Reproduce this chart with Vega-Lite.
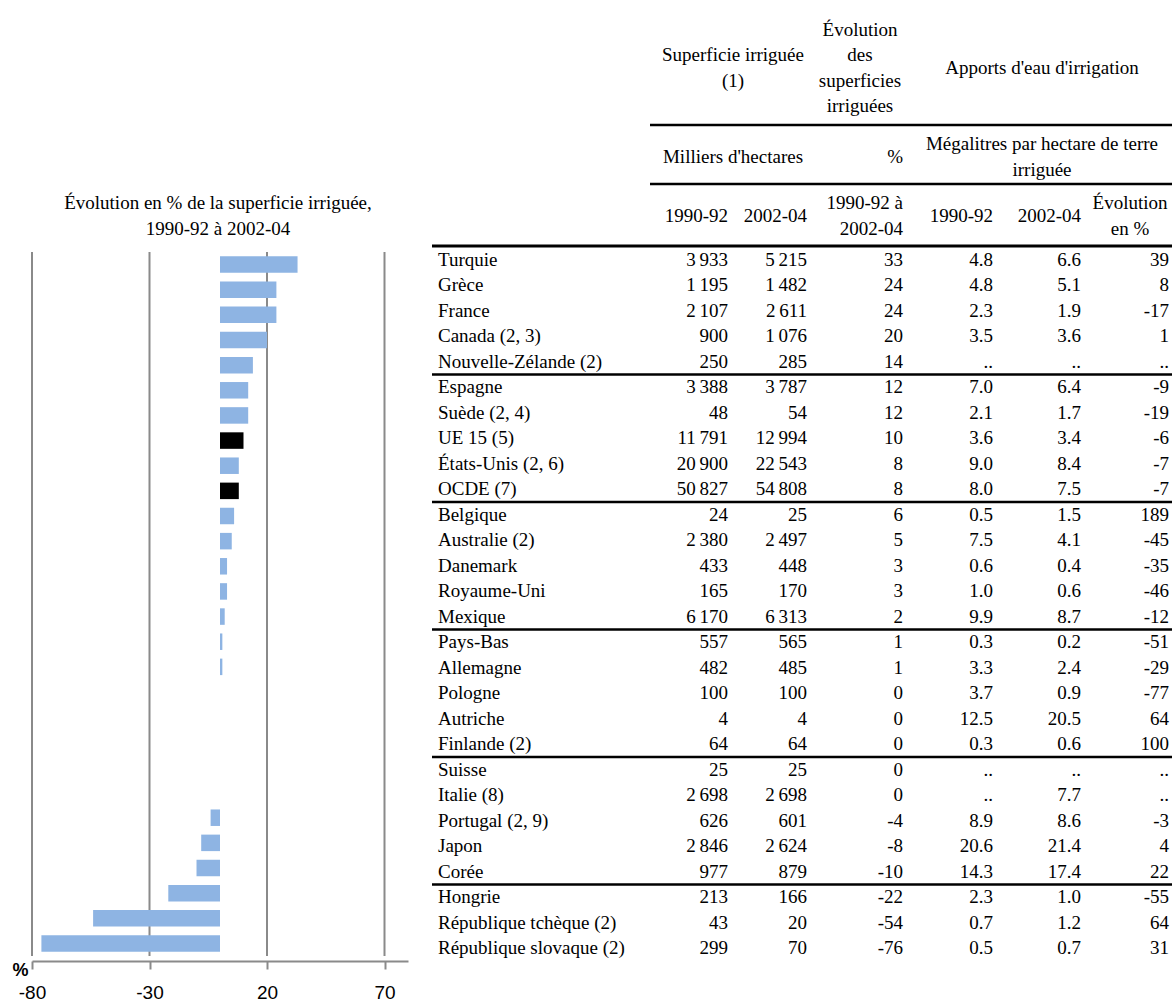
{
  "$schema": "https://vega.github.io/schema/vega-lite/v6.json",
  "width": 1172,
  "height": 961,
  "autosize": {"type": "none"},
  "padding": {"left": 0, "top": 0, "right": 0, "bottom": 40},
  "background": "white",
  "config": {
    "view": {"stroke": null},
    "locale": {"number": {"decimal": ".", "thousands": "\u2009", "grouping": [3], "currency": ["", ""], "minus": "-"}},
    "text": {"font": "Liberation Serif", "fontSize": 19, "color": "#000000"}
  },
  "datasets": {
    "irrigation": [
      {"pays": "Turquie", "nature": "pays", "sup1990": 3933, "sup2002": 5215, "evolution": 33, "apport1990": 4.8, "apport2002": 6.6, "evolApport": 39},
      {"pays": "Grèce", "nature": "pays", "sup1990": 1195, "sup2002": 1482, "evolution": 24, "apport1990": 4.8, "apport2002": 5.1, "evolApport": 8},
      {"pays": "France", "nature": "pays", "sup1990": 2107, "sup2002": 2611, "evolution": 24, "apport1990": 2.3, "apport2002": 1.9, "evolApport": -17},
      {"pays": "Canada (2, 3)", "nature": "pays", "sup1990": 900, "sup2002": 1076, "evolution": 20, "apport1990": 3.5, "apport2002": 3.6, "evolApport": 1},
      {"pays": "Nouvelle-Zélande (2)", "nature": "pays", "sup1990": 250, "sup2002": 285, "evolution": 14, "apport1990": null, "apport2002": null, "evolApport": null},
      {"pays": "Espagne", "nature": "pays", "sup1990": 3388, "sup2002": 3787, "evolution": 12, "apport1990": 7.0, "apport2002": 6.4, "evolApport": -9},
      {"pays": "Suède (2, 4)", "nature": "pays", "sup1990": 48, "sup2002": 54, "evolution": 12, "apport1990": 2.1, "apport2002": 1.7, "evolApport": -19},
      {"pays": "UE 15 (5)", "nature": "agrégat", "sup1990": 11791, "sup2002": 12994, "evolution": 10, "apport1990": 3.6, "apport2002": 3.4, "evolApport": -6},
      {"pays": "États-Unis (2, 6)", "nature": "pays", "sup1990": 20900, "sup2002": 22543, "evolution": 8, "apport1990": 9.0, "apport2002": 8.4, "evolApport": -7},
      {"pays": "OCDE (7)", "nature": "agrégat", "sup1990": 50827, "sup2002": 54808, "evolution": 8, "apport1990": 8.0, "apport2002": 7.5, "evolApport": -7},
      {"pays": "Belgique", "nature": "pays", "sup1990": 24, "sup2002": 25, "evolution": 6, "apport1990": 0.5, "apport2002": 1.5, "evolApport": 189},
      {"pays": "Australie (2)", "nature": "pays", "sup1990": 2380, "sup2002": 2497, "evolution": 5, "apport1990": 7.5, "apport2002": 4.1, "evolApport": -45},
      {"pays": "Danemark", "nature": "pays", "sup1990": 433, "sup2002": 448, "evolution": 3, "apport1990": 0.6, "apport2002": 0.4, "evolApport": -35},
      {"pays": "Royaume-Uni", "nature": "pays", "sup1990": 165, "sup2002": 170, "evolution": 3, "apport1990": 1.0, "apport2002": 0.6, "evolApport": -46},
      {"pays": "Mexique", "nature": "pays", "sup1990": 6170, "sup2002": 6313, "evolution": 2, "apport1990": 9.9, "apport2002": 8.7, "evolApport": -12},
      {"pays": "Pays-Bas", "nature": "pays", "sup1990": 557, "sup2002": 565, "evolution": 1, "apport1990": 0.3, "apport2002": 0.2, "evolApport": -51},
      {"pays": "Allemagne", "nature": "pays", "sup1990": 482, "sup2002": 485, "evolution": 1, "apport1990": 3.3, "apport2002": 2.4, "evolApport": -29},
      {"pays": "Pologne", "nature": "pays", "sup1990": 100, "sup2002": 100, "evolution": 0, "apport1990": 3.7, "apport2002": 0.9, "evolApport": -77},
      {"pays": "Autriche", "nature": "pays", "sup1990": 4, "sup2002": 4, "evolution": 0, "apport1990": 12.5, "apport2002": 20.5, "evolApport": 64},
      {"pays": "Finlande (2)", "nature": "pays", "sup1990": 64, "sup2002": 64, "evolution": 0, "apport1990": 0.3, "apport2002": 0.6, "evolApport": 100},
      {"pays": "Suisse", "nature": "pays", "sup1990": 25, "sup2002": 25, "evolution": 0, "apport1990": null, "apport2002": null, "evolApport": null},
      {"pays": "Italie (8)", "nature": "pays", "sup1990": 2698, "sup2002": 2698, "evolution": 0, "apport1990": null, "apport2002": 7.7, "evolApport": null},
      {"pays": "Portugal (2, 9)", "nature": "pays", "sup1990": 626, "sup2002": 601, "evolution": -4, "apport1990": 8.9, "apport2002": 8.6, "evolApport": -3},
      {"pays": "Japon", "nature": "pays", "sup1990": 2846, "sup2002": 2624, "evolution": -8, "apport1990": 20.6, "apport2002": 21.4, "evolApport": 4},
      {"pays": "Corée", "nature": "pays", "sup1990": 977, "sup2002": 879, "evolution": -10, "apport1990": 14.3, "apport2002": 17.4, "evolApport": 22},
      {"pays": "Hongrie", "nature": "pays", "sup1990": 213, "sup2002": 166, "evolution": -22, "apport1990": 2.3, "apport2002": 1.0, "evolApport": -55},
      {"pays": "République tchèque (2)", "nature": "pays", "sup1990": 43, "sup2002": 20, "evolution": -54, "apport1990": 0.7, "apport2002": 1.2, "evolApport": 64},
      {"pays": "République slovaque (2)", "nature": "pays", "sup1990": 299, "sup2002": 70, "evolution": -76, "apport1990": 0.5, "apport2002": 0.7, "evolApport": 31}
    ]
  },
  "resolve": {"scale": {"x": "independent", "y": "independent"}},
  "layer": [
    {
      "data": {"name": "irrigation"},
      "transform": [{"window": [{"op": "row_number", "as": "rang"}]}],
      "resolve": {"axis": {"x": "independent", "y": "independent"}},
      "layer": [
        {
          "data": {"values": [{"graduation": -80}, {"graduation": -30}, {"graduation": 20}, {"graduation": 70}]},
          "mark": {"type": "rule", "color": "#8a8a8a", "strokeWidth": 2},
          "encoding": {
            "x": {"field": "graduation", "type": "quantitative", "axis": null,
                  "scale": {"domain": [-80, 80], "range": [32, 408], "nice": false, "zero": false}},
            "y": {"datum": 0.5, "type": "quantitative", "axis": null,
                  "scale": {"domain": [0.5, 28.5], "range": [247, 961], "nice": false, "zero": false}},
            "y2": {"datum": 28.5}
          }
        },
        {
          "mark": {"type": "bar", "orient": "horizontal", "height": 16.5},
          "encoding": {
            "y": {"field": "rang", "type": "quantitative", "axis": null},
            "x": {
              "field": "evolution", "type": "quantitative", "stack": null,
              "axis": {
                "orient": "bottom", "values": [-80, -30, 20, 70], "format": "d", "grid": false,
                "domainColor": "#8a8a8a", "domainWidth": 2,
                "tickColor": "#8a8a8a", "tickWidth": 2, "tickSize": 8,
                "labelFont": "Liberation Sans", "labelFontSize": 19, "labelColor": "#000000",
                "labelPadding": 14, "labelFlush": false, "labelOverlap": false, "labelBound": false,
                "title": "%", "titleFont": "Liberation Sans", "titleFontSize": 18, "titleFontWeight": "bold",
                "titleColor": "#000000", "titleX": 20, "titleY": 9, "titleAlign": "center", "titleBaseline": "middle", "titleAngle": 0
              }
            },
            "color": {
              "field": "nature", "type": "nominal",
              "scale": {"domain": ["pays", "agrégat"], "range": ["#8eb4e3", "#000000"]},
              "legend": null
            }
          }
        }
      ]
    },
    {
      "data": {"name": "irrigation"},
      "layer": [
        {
          "mark": {"type": "text", "align": "left", "baseline": "middle", "dx": 6},
          "encoding": {
            "x": {"datum": 0, "type": "quantitative", "axis": null,
                  "scale": {"domain": [0, 1, 2, 3, 4, 5, 6, 7], "range": [432, 650, 733, 812, 908, 998, 1086, 1174], "nice": false, "zero": false}},
            "y": {"field": "pays", "type": "nominal", "axis": null,
                  "scale": {"domain": ["Turquie", "Grèce", "France", "Canada (2, 3)", "Nouvelle-Zélande (2)", "Espagne", "Suède (2, 4)", "UE 15 (5)", "États-Unis (2, 6)", "OCDE (7)", "Belgique", "Australie (2)", "Danemark", "Royaume-Uni", "Mexique", "Pays-Bas", "Allemagne", "Pologne", "Autriche", "Finlande (2)", "Suisse", "Italie (8)", "Portugal (2, 9)", "Japon", "Corée", "Hongrie", "République tchèque (2)", "République slovaque (2)"],
                            "range": [247, 961], "paddingInner": 0, "paddingOuter": 0}},
            "text": {"field": "pays", "type": "nominal"}
          }
        },
        {
          "mark": {"type": "text", "align": "right", "baseline": "middle", "dx": -5},
          "encoding": {
            "x": {"datum": 2, "type": "quantitative"},
            "y": {"field": "pays", "type": "nominal"},
            "text": {"field": "sup1990", "type": "quantitative", "format": ",d"}
          }
        },
        {
          "mark": {"type": "text", "align": "right", "baseline": "middle", "dx": -5},
          "encoding": {
            "x": {"datum": 3, "type": "quantitative"},
            "y": {"field": "pays", "type": "nominal"},
            "text": {"field": "sup2002", "type": "quantitative", "format": ",d"}
          }
        },
        {
          "mark": {"type": "text", "align": "right", "baseline": "middle", "dx": -5},
          "encoding": {
            "x": {"datum": 4, "type": "quantitative"},
            "y": {"field": "pays", "type": "nominal"},
            "text": {"field": "evolution", "type": "quantitative", "format": "d"}
          }
        },
        {
          "mark": {"type": "text", "align": "right", "baseline": "middle", "dx": -5},
          "encoding": {
            "x": {"datum": 5, "type": "quantitative"},
            "y": {"field": "pays", "type": "nominal"},
            "text": {"condition": {"test": "datum.apport1990 === null", "value": ".."}, "field": "apport1990", "type": "quantitative", "format": ".1f"}
          }
        },
        {
          "mark": {"type": "text", "align": "right", "baseline": "middle", "dx": -5},
          "encoding": {
            "x": {"datum": 6, "type": "quantitative"},
            "y": {"field": "pays", "type": "nominal"},
            "text": {"condition": {"test": "datum.apport2002 === null", "value": ".."}, "field": "apport2002", "type": "quantitative", "format": ".1f"}
          }
        },
        {
          "mark": {"type": "text", "align": "right", "baseline": "middle", "dx": -5},
          "encoding": {
            "x": {"datum": 7, "type": "quantitative"},
            "y": {"field": "pays", "type": "nominal"},
            "text": {"condition": {"test": "datum.evolApport === null", "value": ".."}, "field": "evolApport", "type": "quantitative", "format": "d"}
          }
        },
        {
          "data": {"values": [{"fin": "Nouvelle-Zélande (2)"}, {"fin": "OCDE (7)"}, {"fin": "Mexique"}, {"fin": "Finlande (2)"}, {"fin": "Corée"}]},
          "mark": {"type": "rule", "color": "#000000", "strokeWidth": 2.5},
          "encoding": {
            "x": {"datum": 0, "type": "quantitative"},
            "x2": {"datum": 7},
            "y": {"field": "fin", "type": "nominal", "bandPosition": 1}
          }
        }
      ]
    },
    {
      "layer": [
        {
          "data": {"values": [
            {"texte": "Apports d'eau d'irrigation", "col": 5.5, "niveau": 1},
            {"texte": "Milliers d'hectares", "col": 2, "niveau": 2}
          ]},
          "mark": {"type": "text", "align": "center", "baseline": "middle"},
          "encoding": {
            "x": {"field": "col", "type": "quantitative", "axis": null,
                  "scale": {"domain": [-1, 0, 1, 2, 3, 4, 5, 6, 7], "range": [218, 432, 650, 733, 812, 908, 998, 1086, 1174], "nice": false, "zero": false}},
            "y": {"field": "niveau", "type": "quantitative", "axis": null,
                  "scale": {"domain": [1, 1.5, 2, 2.5, 3, 3.5], "range": [68, 125, 157, 184, 216, 246], "nice": false, "zero": false}},
            "text": {"field": "texte", "type": "nominal"}
          }
        },
        {
          "data": {"values": [
            {"texte": "Évolution en % de la superficie irriguée,\n1990-92 à 2002-04", "col": -1, "niveau": 3},
            {"texte": "Superficie irriguée\n(1)", "col": 2, "niveau": 1},
            {"texte": "Mégalitres par hectare de terre\nirriguée", "col": 5.5, "niveau": 2},
            {"texte": "Évolution\nen %", "col": 6.5, "niveau": 3}
          ]},
          "mark": {"type": "text", "align": "center", "baseline": "middle", "lineBreak": "\n", "lineHeight": 25.5, "dy": -12.75},
          "encoding": {
            "x": {"field": "col", "type": "quantitative"},
            "y": {"field": "niveau", "type": "quantitative"},
            "text": {"field": "texte", "type": "nominal"}
          }
        },
        {
          "data": {"values": [
            {"texte": "Évolution\ndes\nsuperficies\nirriguées", "col": 3.5, "niveau": 1}
          ]},
          "mark": {"type": "text", "align": "center", "baseline": "middle", "lineBreak": "\n", "lineHeight": 25.5, "dy": -38.25},
          "encoding": {
            "x": {"field": "col", "type": "quantitative"},
            "y": {"field": "niveau", "type": "quantitative"},
            "text": {"field": "texte", "type": "nominal"}
          }
        },
        {
          "data": {"values": [
            {"texte": "%", "col": 4, "niveau": 2},
            {"texte": "1990-92", "col": 2, "niveau": 3},
            {"texte": "2002-04", "col": 3, "niveau": 3},
            {"texte": "1990-92", "col": 5, "niveau": 3},
            {"texte": "2002-04", "col": 6, "niveau": 3}
          ]},
          "mark": {"type": "text", "align": "right", "baseline": "middle", "dx": -5},
          "encoding": {
            "x": {"field": "col", "type": "quantitative"},
            "y": {"field": "niveau", "type": "quantitative"},
            "text": {"field": "texte", "type": "nominal"}
          }
        },
        {
          "data": {"values": [
            {"texte": "1990-92 à\n2002-04", "col": 4, "niveau": 3}
          ]},
          "mark": {"type": "text", "align": "right", "baseline": "middle", "dx": -5, "lineBreak": "\n", "lineHeight": 25.5, "dy": -12.75},
          "encoding": {
            "x": {"field": "col", "type": "quantitative"},
            "y": {"field": "niveau", "type": "quantitative"},
            "text": {"field": "texte", "type": "nominal"}
          }
        },
        {
          "data": {"values": [{}]},
          "mark": {"type": "rule", "color": "#000000", "strokeWidth": 2.5},
          "encoding": {"x": {"datum": 1, "type": "quantitative"}, "x2": {"datum": 7}, "y": {"datum": 1.5, "type": "quantitative"}}
        },
        {
          "data": {"values": [{}]},
          "mark": {"type": "rule", "color": "#000000", "strokeWidth": 2.5},
          "encoding": {"x": {"datum": 1, "type": "quantitative"}, "x2": {"datum": 7}, "y": {"datum": 2.5, "type": "quantitative"}}
        },
        {
          "data": {"values": [{}]},
          "mark": {"type": "rule", "color": "#000000", "strokeWidth": 3},
          "encoding": {"x": {"datum": 0, "type": "quantitative"}, "x2": {"datum": 7}, "y": {"datum": 3.5, "type": "quantitative"}}
        }
      ]
    }
  ]
}
